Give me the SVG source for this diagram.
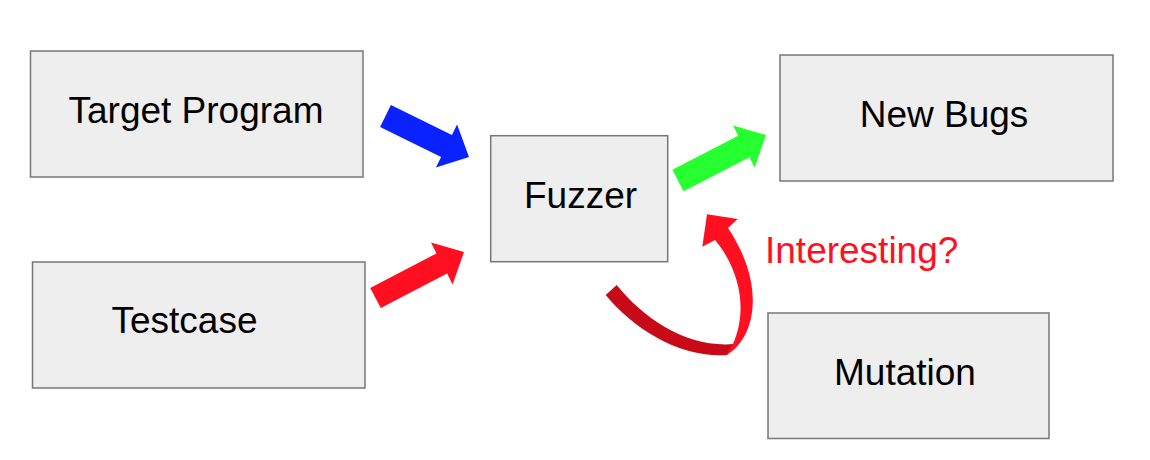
<svg xmlns="http://www.w3.org/2000/svg" width="1150" height="460" viewBox="0 0 1150 460">
<style>
.box{fill:#eeeeee;stroke:#777777;stroke-width:1.5}
.lbl{font-family:"Liberation Sans",Arial,sans-serif;font-size:37px;fill:#000000;text-anchor:middle}
.red{fill:#ff0f1f}
</style>
<rect width="1150" height="460" fill="#ffffff"/>
<g id="target-program">
<rect class="box" x="30.5" y="51" width="332.5" height="126"/>
<text class="lbl" x="196" y="123">Target Program</text>
</g>
<g id="testcase">
<rect class="box" x="32.5" y="262" width="332.5" height="126"/>
<text class="lbl" x="184.5" y="333">Testcase</text>
</g>
<g id="fuzzer">
<rect class="box" x="490.7" y="135.7" width="177" height="126"/>
<text class="lbl" x="580.5" y="207.7">Fuzzer</text>
</g>
<g id="new-bugs">
<rect class="box" x="780" y="55" width="333" height="126"/>
<text class="lbl" x="944" y="126.7">New Bugs</text>
</g>
<g id="mutation">
<rect class="box" x="768" y="313" width="281" height="125.5"/>
<text class="lbl" x="905" y="385">Mutation</text>
</g>
<g id="connectors">
<polygon fill="#0a22ff" points="390.9,105 451.9,135 457.1,124.4 469,157 435.9,167.6 441.1,157 380.1,127"/>
<polygon class="red" points="370.2,287.9 436.5,253.4 431,242.6 464,252 452.6,284.4 447.1,273.6 380.8,308.1"/>
<polygon fill="#26ff30" points="672.4,169.8 738.2,135.8 733,125.6 766,135 754.6,167.4 749.4,157.2 683.6,191.2"/>
<path fill="#c80a18" d="M605.7,295 C635,330 680,358 727,355 L734,344 C688,348 645,320 616.7,285 Z"/>
<path class="red" d="M727,355 C756,337 766,285 728,228 L737.7,219 L707,214.3 L702.3,246.7 L715,240 C740,270 748,310 733,344 Z"/>
<text x="765" y="263" font-family="'Liberation Sans',Arial,sans-serif" font-size="37" fill="#ff0f1f">Interesting?</text>
</g>
</svg>
